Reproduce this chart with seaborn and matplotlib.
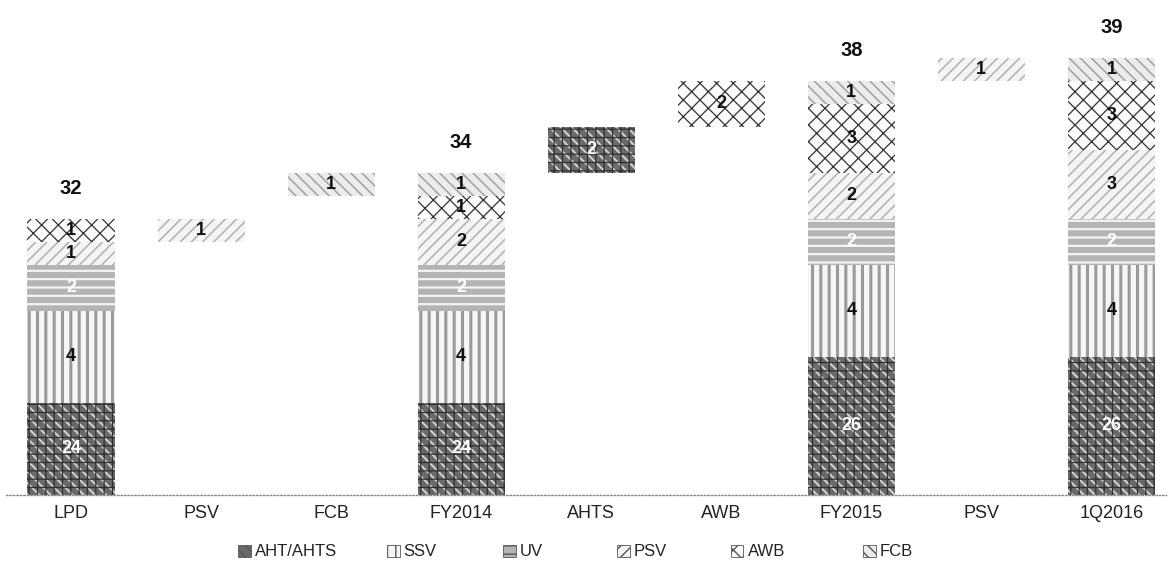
import numpy as np
import pandas as pd
import matplotlib
matplotlib.use("Agg")
import matplotlib.pyplot as plt
import matplotlib.patches as mpatches
import seaborn as sns

# Fleet bridge: categories along the x axis (keys are unique, labels may repeat)
cat_keys = ["LPD", "PSV_a", "FCB", "FY2014", "AHTS", "AWB", "FY2015", "PSV_b", "1Q2016"]
cat_labels = ["LPD", "PSV", "FCB", "FY2014", "AHTS", "AWB", "FY2015", "PSV", "1Q2016"]

# Vessel counts per type for each category
aht = [24, 0, 0, 24, 2, 0, 26, 0, 26]
ssv = [4, 0, 0, 4, 0, 0, 4, 0, 4]
uv = [2, 0, 0, 2, 0, 0, 2, 0, 2]
psv = [1, 1, 0, 2, 0, 0, 2, 1, 3]
awb = [1, 0, 0, 1, 0, 2, 3, 0, 3]
fcb = [0, 0, 1, 1, 0, 0, 1, 0, 1]

# Starting level of the floating (movement) bars; 0 for full bars
float_base = [0, 31, 33, 0, 34, 36, 0, 38, 0]
totals = [32, None, None, 34, None, None, 38, None, 39]

legend_names = ["AHT/AHTS", "SSV", "UV", "PSV", "AWB", "FCB"]

sns.set_theme(style="white")
plt.rcParams["font.family"] = ["Liberation Sans", "DejaVu Sans"]

# type -> (values, face colour, hatch colour, hatch, hatch width, label colour)
styles = [
    (aht, "#6a6a6a", "#d8d8d8", "\\\\\\", 1.3, "white"),
    (ssv, "#f6f6f6", "#9a9a9a", "||", 2.2, "#111111"),
    (uv, "#b4b4b4", "#f4f4f4", "--", 1.6, "white"),
    (psv, "#f5f5f5", "#b0b0b0", "///", 1.1, "#111111"),
    (awb, "#fbfbfb", "#333333", "xx", 0.9, "#111111"),
    (fcb, "#ececec", "#a0a0a0", "\\\\\\", 1.1, "#111111"),
]

fig = plt.figure(figsize=(11.69, 5.67), dpi=100)
ax = fig.add_axes([6 / 1169, 72 / 567, 1160 / 1169, 495 / 567])

n = len(cat_keys)
cum = np.array(float_base, dtype=float)
bar_w = 0.67
seg_positions = []
for vals, face, hcol, hatch, hlw, tcol in styles:
    v = np.array(vals, dtype=float)
    df = pd.DataFrame({"cat": cat_keys, "val": v})
    with plt.rc_context({"hatch.linewidth": hlw}):
        sns.barplot(data=df, x="cat", y="val", order=cat_keys, bottom=cum.copy(),
                    color=face, saturation=1, width=bar_w, linewidth=0,
                    edgecolor=hcol, hatch=hatch, ax=ax, errorbar=None)
    seg_positions.append((cum.copy(), v, tcol))
    cum = cum + v

# extra dark grid texture on the AHT/AHTS segments
df_aht = pd.DataFrame({"cat": cat_keys, "val": np.array(aht, dtype=float)})
with plt.rc_context({"hatch.linewidth": 0.9}):
    sns.barplot(data=df_aht, x="cat", y="val", order=cat_keys,
                bottom=np.array(float_base, dtype=float), fill=False,
                color="#303030", saturation=1,
                width=bar_w, linewidth=0, edgecolor="#303030", hatch="++",
                ax=ax, errorbar=None)

ax.set_ylim(20, 41.5)
ax.set_xlim(-0.5, 8.42)

# segment value labels
for bottoms, vals, tcol in seg_positions:
    for i in range(n):
        if vals[i] <= 0:
            continue
        lo = max(bottoms[i], 20)
        hi = bottoms[i] + vals[i]
        ax.text(i, (lo + hi) / 2, f"{int(vals[i])}", ha="center", va="center",
                fontsize=13, fontweight="bold", color=tcol)

# totals above full bars
for i, t in enumerate(totals):
    if t is None:
        continue
    ax.annotate(f"{t}", (i, t), xytext=(0, 15), textcoords="offset points",
                ha="center", va="bottom", fontsize=14.5, fontweight="bold",
                color="#111111")

ax.set_xticks(range(n))
ax.set_xticklabels(cat_labels, fontsize=13, color="#222222")
ax.set_xlabel("")
ax.set_ylabel("")
ax.set_yticks([])
ax.tick_params(axis="x", length=0, pad=7)
for s in ["left", "right", "top"]:
    ax.spines[s].set_visible(False)
ax.spines["bottom"].set_color("#888888")
ax.spines["bottom"].set_linestyle((0, (1, 1.5)))
ax.spines["bottom"].set_linewidth(1)

# legend entries placed along the bottom
legend_x = [238, 387, 503, 617, 731, 863]
for (vals, face, hcol, hatch, hlw, tcol), name, lx in zip(styles, legend_names, legend_x):
    h = mpatches.Patch(facecolor=face, edgecolor="#555555", hatch=hatch, linewidth=0.6,
                       label=name)
    fig.legend(handles=[h], loc="center left", bbox_to_anchor=(lx / 1169, 1 - 552 / 567),
               frameon=False, borderpad=0, borderaxespad=0, handlelength=0.75,
               handleheight=0.75, handletextpad=0.25, fontsize=12,
               labelcolor="#222222")

fig.savefig("out.png", dpi=100)
